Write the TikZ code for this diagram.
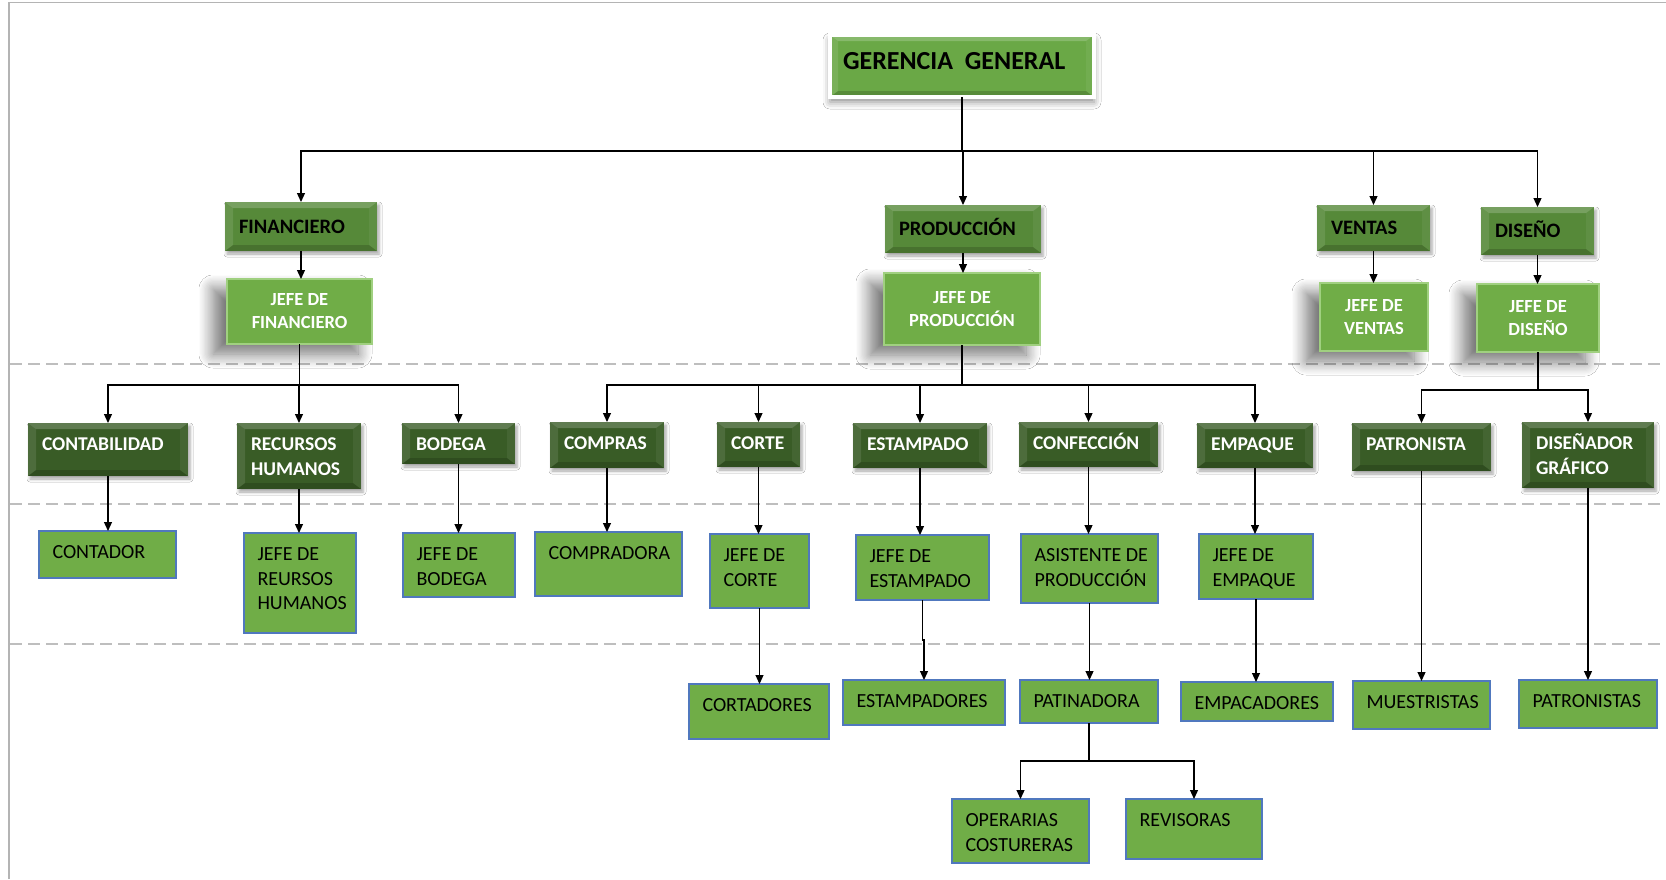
\documentclass[tikz,border=0pt]{standalone}
\usepackage{fontspec}
\setmainfont{Carlito}
\usetikzlibrary{arrows.meta,shadows.blur}
\definecolor{gA}{RGB}{112,173,71}
\definecolor{gTop}{RGB}{106,168,70}
\definecolor{gB}{RGB}{86,137,57}
\definecolor{gC}{RGB}{57,92,38}
\definecolor{gEdge}{RGB}{160,208,128}
\definecolor{bd}{RGB}{80,120,190}
\definecolor{dashc}{RGB}{190,190,190}
\definecolor{framec}{RGB}{180,180,180}
\newcommand\obox[7]{\node[#1, anchor=north west, minimum width={(#5-#3)*1pt}, minimum height={(#6-#4)*1pt}] (#2) at (#3,#4) {#7};}
\newcommand\ppb{path picture bounding box}
\newcommand\toplines[1]{\parbox[t]{220pt}{\raggedright #1}}
\tikzset{
  every node/.style={inner sep=0pt, outer sep=0pt},
  bevel/.style={path picture={
    \fill[white,opacity=.20] (\ppb.north west) -- (\ppb.north east) -- ([shift={(-8pt,-6pt)}]\ppb.north east) -- ([shift={(8pt,-6pt)}]\ppb.north west) -- cycle;
    \fill[black,opacity=.16] (\ppb.south west) -- (\ppb.south east) -- ([shift={(-8pt,6pt)}]\ppb.south east) -- ([shift={(8pt,6pt)}]\ppb.south west) -- cycle;
    \fill[white,opacity=.10] (\ppb.north west) -- ([shift={(8pt,-6pt)}]\ppb.north west) -- ([shift={(8pt,6pt)}]\ppb.south west) -- (\ppb.south west) -- cycle;
    \fill[white,opacity=.06] (\ppb.north east) -- ([shift={(-8pt,-6pt)}]\ppb.north east) -- ([shift={(-8pt,6pt)}]\ppb.south east) -- (\ppb.south east) -- cycle;
  }},
  lvone/.style={fill=gTop, draw=white, line width=3.5pt, bevel,
    blur shadow={shadow xshift=0pt, shadow yshift=-5pt, shadow blur radius=7pt, shadow opacity=45}},
  lvtwo/.style={fill=gB, bevel,
    blur shadow={shadow xshift=2pt, shadow yshift=-3pt, shadow blur radius=3pt, shadow opacity=35}},
  jefe/.style={fill=gA, draw=gEdge, line width=2pt, text=white, align=center,
    font=\fontsize{18.5}{23}\selectfont\bfseries,
    blur shadow={shadow xshift=-14pt, shadow yshift=-10pt, shadow blur radius=14pt, shadow blur steps=12, shadow opacity=55}},
  lvthree/.style={fill=gC, bevel,
    blur shadow={shadow xshift=2pt, shadow yshift=-3pt, shadow blur radius=3pt, shadow opacity=35}},
  lvfour/.style={fill=gA, draw=bd, line width=1.1pt},
  lab1/.style={anchor=base west, xshift=13pt, yshift=-3pt, font=\fontsize{26}{30}\selectfont\bfseries, text=black},
  lab2/.style={anchor=base west, xshift=14pt, yshift=-6.7pt, font=\fontsize{20.5}{24}\selectfont\bfseries, text=black},
  lab3/.style={anchor=base west, xshift=14pt, yshift=-27pt, font=\fontsize{19.5}{25}\selectfont\bfseries, text=white},
  lab4/.style={anchor=base west, xshift=13.5pt, yshift=-27.5pt, font=\fontsize{20}{24.5}\selectfont, text=black},
  lone/.style={label={[lab1]west:{#1}}},
  ltwo/.style={label={[lab2]west:{#1}}},
  lthree/.style={label={[lab3]north west:{\toplines{#1}}}},
  lfour/.style={label={[lab4]north west:{\toplines{#1}}}},
  arr/.style={draw=black, line width=1.2pt, -{Triangle[length=9pt,width=8pt]}},
  dsh/.style={draw=dashc, line width=1.3pt, dash pattern=on 12pt off 6pt},
}
\begin{document}
\begin{tikzpicture}[x=1pt,y=-1pt]
\useasboundingbox (0,0) rectangle (1666,879);
\fill[white] (0,0) rectangle (1666,879);
% frame and dashed separators
\draw[framec, line width=1.6pt] (9,879) -- (9,2.5) -- (1666,2.5);
\foreach \yy in {364,504,644} \draw[dsh] (10,\yy) -- (1666,\yy);

% level 1
\obox{lvone, lone={GERENCIA\ \ GENERAL}}{gg}{830}{35}{1094}{97}{}
% level 2
\obox{lvtwo, ltwo={FINANCIERO}}{fin}{225}{202}{377}{251}{}
\obox{lvtwo, ltwo={PRODUCCIÓN}}{prod}{885}{205}{1041}{253}{}
\obox{lvtwo, ltwo={VENTAS}}{ven}{1317}{205}{1430}{251}{}
\obox{lvtwo, ltwo={DISEÑO}}{dis}{1481}{207}{1594}{255}{}
% jefes
\obox{jefe}{jfin}{227}{279}{372}{344}{JEFE DE\\FINANCIERO}
\obox{jefe}{jprod}{884}{273}{1040}{345}{JEFE DE\\PRODUCCIÓN}
\obox{jefe}{jven}{1320}{283}{1428}{351}{JEFE DE\\VENTAS}
\obox{jefe}{jdis}{1477}{284}{1599}{352}{JEFE DE\\DISEÑO}
% level 3
\obox{lvthree, lthree={CONTABILIDAD}}{cont}{28}{423}{188}{476}{}
\obox{lvthree, lthree={RECURSOS\\HUMANOS}}{rrhh}{237}{423}{361}{489}{}
\obox{lvthree, lthree={BODEGA}}{bod}{402}{423}{515}{464}{}
\obox{lvthree, lthree={COMPRAS}}{comp}{550}{422}{664}{468}{}
\obox{lvthree, lthree={CORTE}}{cort}{717}{422}{800}{467}{}
\obox{lvthree, lthree={ESTAMPADO}}{est}{853}{423}{987}{468}{}
\obox{lvthree, lthree={CONFECCIÓN}}{conf}{1019}{422}{1158}{467}{}
\obox{lvthree, lthree={EMPAQUE}}{emp}{1197}{423}{1313}{468}{}
\obox{lvthree, lthree={PATRONISTA}}{pat}{1352}{423}{1491}{471}{}
\obox{lvthree, lthree={DISEÑADOR\\GRÁFICO}}{dg}{1522}{422}{1654}{488}{}
% level 4
\obox{lvfour, lfour={CONTADOR}}{contador}{39}{531}{176}{578}{}
\obox{lvfour, lfour={JEFE DE\\REURSOS\\HUMANOS}}{jrrhh}{244}{533}{356}{633}{}
\obox{lvfour, lfour={JEFE DE\\BODEGA}}{jbod}{403}{533}{515}{597}{}
\obox{lvfour, lfour={COMPRADORA}}{compra}{535}{532}{682}{596}{}
\obox{lvfour, lfour={JEFE DE\\CORTE}}{jcorte}{710}{534}{809}{608}{}
\obox{lvfour, lfour={JEFE DE\\ESTAMPADO}}{jest}{856}{535}{989}{600}{}
\obox{lvfour, lfour={ASISTENTE DE\\PRODUCCIÓN}}{asis}{1021}{534}{1158}{603}{}
\obox{lvfour, lfour={JEFE DE\\EMPAQUE}}{jemp}{1199}{534}{1313}{599}{}
% level 5
\obox{lvfour, lfour={CORTADORES}}{cortad}{689}{684}{829}{739}{}
\obox{lvfour, lfour={ESTAMPADORES}}{estamp}{843}{680}{1005}{725}{}
\obox{lvfour, lfour={PATINADORA}}{patin}{1020}{680}{1158}{723}{}
\obox{lvfour, lfour={EMPACADORES}}{empac}{1181}{682}{1333}{721}{}
\obox{lvfour, lfour={MUESTRISTAS}}{muest}{1353}{681}{1490}{729}{}
\obox{lvfour, lfour={PATRONISTAS}}{patron}{1519}{680}{1657}{728}{}
\obox{lvfour, lfour={OPERARIAS\\COSTURERAS}}{oper}{952}{799}{1089}{863}{}
\obox{lvfour, lfour={REVISORAS}}{revis}{1126}{799}{1262}{859}{}

% bus coordinates
\coordinate (busA) at (0,151);
\coordinate (busB) at (0,385);
\coordinate (busC) at (0,390);
\coordinate (busD) at (0,761);

% level 1 -> level 2
\foreach \c in {fin,prod,ven,dis}
  \draw[arr] (gg.south) -- (gg.south |- busA) -| (\c.north);
% level 2 -> jefes
\foreach \p/\c in {fin/jfin,prod/jprod,ven/jven,dis/jdis}
  \draw[arr] (\p.south) -- (\p.south |- \c.north);
% jefes -> level 3
\foreach \c in {cont,rrhh,bod}
  \draw[arr] (jfin.south) -- (jfin.south |- busB) -| (\c.north);
\foreach \c in {comp,cort,est,conf,emp}
  \draw[arr] (jprod.south) -- (jprod.south |- busB) -| (\c.north);
\foreach \c in {pat,dg}
  \draw[arr] (jdis.south) -- (jdis.south |- busC) -| (\c.north);
% level 3 -> level 4
\foreach \p/\c in {cont/contador,rrhh/jrrhh,bod/jbod,comp/compra,cort/jcorte,est/jest,conf/asis,emp/jemp}
  \draw[arr] (\p.south) -- (\p.south |- \c.north);
% level 4 -> level 5
\draw[arr] (jcorte.south) -- (jcorte.south |- cortad.north);
\draw[arr] (jest.south) -- ++(0,40) -| (estamp.north);
\draw[arr] (asis.south) -- (asis.south |- patin.north);
\draw[arr] (jemp.south) -- (jemp.south |- empac.north);
\draw[arr] (pat.south) -- (pat.south |- muest.north);
\draw[arr] (dg.south) -- (dg.south |- patron.north);
% patinadora -> operarias / revisoras
\foreach \c in {oper,revis}
  \draw[arr] (patin.south) -- (patin.south |- busD) -| (\c.north);
\end{tikzpicture}
\end{document}
